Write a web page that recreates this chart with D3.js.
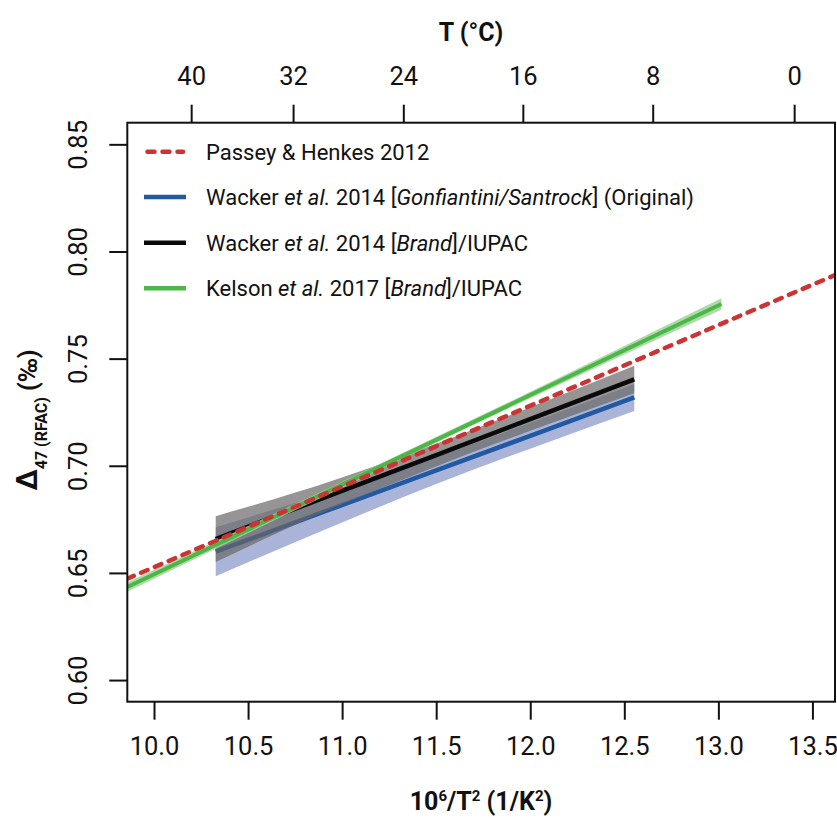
<!DOCTYPE html>
<html>
<head>
<meta charset="UTF-8">
<title>Clumped isotope calibrations</title>
<script src="https://cdn.jsdelivr.net/npm/d3@7"></script>
<style>
  body { margin: 0; background: #fff; }
  svg text { font-family: Roboto, "Noto Sans", sans-serif; fill: #111; }
  .axis path.domain { display: none; }
  .axis line { stroke: #111; stroke-width: 2; }
  .axis text { font-size: 25.5px; }
  .legend text { font-size: 22px; }
</style>
</head>
<body>
<svg id="chart" width="837" height="818"></svg>
<script>
// axis ticks
var xTicks = [10.0, 10.5, 11.0, 11.5, 12.0, 12.5, 13.0, 13.5];
var yTicks = [0.60, 0.65, 0.70, 0.75, 0.80, 0.85];
var tTicks = [40, 32, 24, 16, 8, 0];   // degrees C on top axis

// Passey & Henkes 2012 (dashed line, end points)
var passeyX = [9.858, 13.62];
var passeyY = [0.6473, 0.7890];

// Kelson et al. 2017 [Brand]/IUPAC
var kelsonX = [9.858, 11.0, 12.0, 13.016];
var kelsonY = [0.6434, 0.6912, 0.7330, 0.7755];
var kelsonLo = [0.6412, 0.6898, 0.7315, 0.7728];
var kelsonHi = [0.6456, 0.6926, 0.7345, 0.7782];

// Wacker et al. 2014 [Brand]/IUPAC
var brandX = [10.328, 10.936, 11.5, 12.0, 12.553];
var brandY = [0.6658, 0.6862, 0.7050, 0.7218, 0.7403];
var brandLo = [0.6551, 0.6797, 0.6997, 0.7163, 0.7339];
var brandHi = [0.6765, 0.6927, 0.7103, 0.7273, 0.7467];

// Wacker et al. 2014 [Gonfiantini/Santrock] (Original)
var origX = [10.328, 10.936, 11.5, 12.0, 12.553];
var origY = [0.6599, 0.6796, 0.6978, 0.7140, 0.7319];
var origLo = [0.6485, 0.6712, 0.6915, 0.7080, 0.7256];
var origHi = [0.6713, 0.6878, 0.7041, 0.7200, 0.7382];

var pLeft = 127.3, pRight = 835, pTop = 122.7, pBottom = 701.7;

var svg = d3.select("#chart");

var x = d3.scaleLinear().domain([9.858, 13.62]).range([pLeft, pRight]);
var y = d3.scaleLinear().domain([0.5899, 0.8601]).range([pBottom, pTop]);

var defs = svg.append("defs");
defs.append("clipPath").attr("id", "plotclip")
    .append("rect")
    .attr("x", pLeft).attr("y", pTop)
    .attr("width", pRight - pLeft).attr("height", pBottom - pTop);

function pts(xs, ys) { return xs.map(function(v, i) { return [v, ys[i]]; }); }

var line = d3.line().x(function(d) { return x(d[0]); }).y(function(d) { return y(d[1]); });
var band = d3.area()
    .curve(d3.curveMonotoneX)
    .x(function(d) { return x(d[0]); })
    .y0(function(d) { return y(d[1]); })
    .y1(function(d) { return y(d[2]); });
function bandPts(xs, lo, hi) { return xs.map(function(v, i) { return [v, lo[i], hi[i]]; }); }

var plot = svg.append("g").attr("clip-path", "url(#plotclip)");

// blue band + line (drawn under the grey band)
plot.append("path").attr("d", band(bandPts(origX, origLo, origHi)))
    .attr("fill", "#a9b4d8");
plot.append("path").attr("d", line(pts(origX, origY)))
    .attr("fill", "none").attr("stroke", "#2159a3").attr("stroke-width", 4.5);

// grey band + black line
plot.append("path").attr("d", band(bandPts(brandX, brandLo, brandHi)))
    .attr("fill", "rgb(106,102,102)").attr("fill-opacity", 0.7);
plot.append("path").attr("d", line(pts(brandX, brandY)))
    .attr("fill", "none").attr("stroke", "#0a0a0a").attr("stroke-width", 4.5);

// green band + line
plot.append("path").attr("d", band(bandPts(kelsonX, kelsonLo, kelsonHi)))
    .attr("fill", "#9fd598").attr("fill-opacity", 0.85);
plot.append("path").attr("d", line(pts(kelsonX, kelsonY)))
    .attr("fill", "none").attr("stroke", "#4cb748").attr("stroke-width", 4);

// red dashed
plot.append("path").attr("d", line(pts(passeyX, passeyY)))
    .attr("fill", "none").attr("stroke", "#cc3333").attr("stroke-width", 4.5)
    .attr("stroke-linecap", "round").attr("stroke-dasharray", "7,8");

// frame
svg.append("rect")
    .attr("x", pLeft).attr("y", pTop)
    .attr("width", pRight - pLeft).attr("height", pBottom - pTop)
    .attr("fill", "none").attr("stroke", "#111").attr("stroke-width", 2);

// bottom axis
svg.append("g").attr("class", "axis")
    .attr("transform", "translate(0," + pBottom + ")")
    .call(d3.axisBottom(x).tickValues(xTicks).tickFormat(d3.format(".1f"))
        .tickSize(18).tickPadding(17));

// top axis, temperature in C
svg.append("g").attr("class", "axis")
    .attr("transform", "translate(0," + pTop + ")")
    .call(d3.axisTop(x).tickValues(tTicks.map(function(t) { return 1e6 / Math.pow(t + 273.15, 2); }))
        .tickFormat(function(d, i) { return tTicks[i]; })
        .tickSize(18).tickPadding(20));

// left axis, rotated labels
var yAxis = svg.append("g").attr("class", "axis")
    .attr("transform", "translate(" + pLeft + ",0)")
    .call(d3.axisLeft(y).tickValues(yTicks).tickFormat(d3.format(".2f")).tickSize(18));
yAxis.selectAll(".tick text")
    .attr("x", null).attr("dy", null)
    .attr("text-anchor", "middle")
    .attr("transform", "translate(-40,0) rotate(-90)");

// titles
svg.append("text")
    .attr("x", 471).attr("y", 41)
    .attr("text-anchor", "middle")
    .style("font-size", "25px").style("font-weight", "bold")
    .text("T (\u00B0C)");

var xt = svg.append("text")
    .attr("x", 481).attr("y", 810)
    .attr("text-anchor", "middle")
    .style("font-size", "25px").style("font-weight", "bold");
xt.append("tspan").text("10");
xt.append("tspan").attr("baseline-shift", "super").style("font-size", "15px").text("6");
xt.append("tspan").text("/T");
xt.append("tspan").attr("baseline-shift", "super").style("font-size", "15px").text("2");
xt.append("tspan").text(" (1/K");
xt.append("tspan").attr("baseline-shift", "super").style("font-size", "15px").text("2");
xt.append("tspan").text(")");

var yt = svg.append("text")
    .attr("transform", "translate(37,420) rotate(-90)")
    .attr("text-anchor", "middle")
    .style("font-size", "25px").style("font-weight", "bold");
yt.append("tspan").style("font-size", "29px").text("\u0394");
yt.append("tspan").attr("baseline-shift", "sub").style("font-size", "16px").text("47 (RFAC)");
yt.append("tspan").attr("dx", 6).text("(\u2030)");

// legend
var legendNames = [
  [["Passey & Henkes 2012", false]],
  [["Wacker ", false], ["et al.", true], [" 2014 [", false], ["Gonfiantini/Santrock", true], ["] (Original)", false]],
  [["Wacker ", false], ["et al.", true], [" 2014 [", false], ["Brand", true], ["]/IUPAC", false]],
  [["Kelson ", false], ["et al.", true], [" 2017 [", false], ["Brand", true], ["]/IUPAC", false]]
];
var legendColors = ["#cc3333", "#2159a3", "#0a0a0a", "#4cb748"];
var legendY = [151.7, 197, 242.7, 288.3];

var lg = svg.append("g").attr("class", "legend");
legendNames.forEach(function(parts, i) {
  var ln = lg.append("line")
      .attr("x1", 144).attr("x2", 186)
      .attr("y1", legendY[i]).attr("y2", legendY[i])
      .attr("stroke", legendColors[i]).attr("stroke-width", 4.5);
  if (i === 0) ln.attr("x1", 147.5).attr("x2", 183).attr("stroke-linecap", "round").attr("stroke-dasharray", "7,8");
  var t = lg.append("text").attr("x", 206).attr("y", legendY[i] + 8);
  parts.forEach(function(p) {
    t.append("tspan").style("font-style", p[1] ? "italic" : "normal").text(p[0]);
  });
});
</script>
</body>
</html>
